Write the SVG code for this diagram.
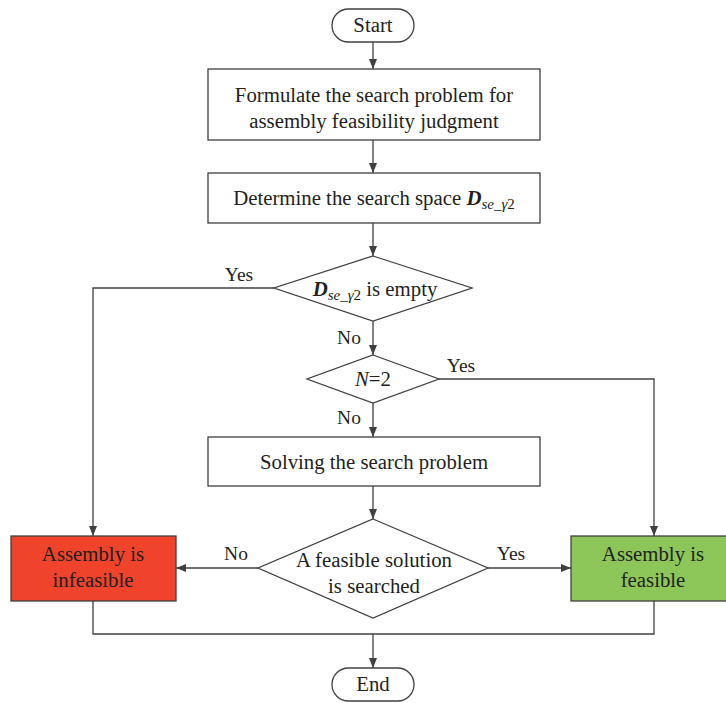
<svg xmlns="http://www.w3.org/2000/svg" width="726" height="703" viewBox="0 0 726 703">
<defs>
<marker id="arr" viewBox="0 0 10 10" refX="10" refY="5" markerWidth="10" markerHeight="10" markerUnits="userSpaceOnUse" orient="auto">
<path d="M0,1 L10,5 L0,9 Z" fill="#404040"/>
</marker>
<style>
.box{fill:#fff;stroke:#404040;stroke-width:1.3}
.t{font-family:"Liberation Serif","Times New Roman",serif;font-size:20.8px;fill:#231f20;text-anchor:middle}
.l{font-family:"Liberation Serif","Times New Roman",serif;font-size:19.5px;fill:#231f20;text-anchor:middle}
.c{fill:none;stroke:#404040;stroke-width:1.3}
</style>
</defs>
<rect width="726" height="703" fill="#fff"/>
<g id="start"><rect class="box" x="332" y="9" width="82" height="33" rx="16.5"/><text class="t" x="373" y="32">Start</text></g>
<g id="formulate"><rect class="box" x="208" y="69" width="332" height="71"/><text class="t" x="374" y="102">Formulate the search problem for</text><text class="t" x="374" y="128">assembly feasibility judgment</text></g>
<g id="determine"><rect class="box" x="208" y="173" width="332" height="50"/><text class="t" x="374" y="205">Determine the search space <tspan font-weight="bold" font-style="italic">D</tspan><tspan font-size="15" font-style="italic" dy="4">se_γ</tspan><tspan font-size="15">2</tspan></text></g>
<g id="empty"><polygon class="box" points="373,256 472,288 373,321 274,288"/><text class="t" x="375" y="296"><tspan font-weight="bold" font-style="italic">D</tspan><tspan font-size="15" font-style="italic" dy="4">se_γ</tspan><tspan font-size="15">2</tspan><tspan dy="-4"> is empty</tspan></text></g>
<g id="n2"><polygon class="box" points="373,355 439,379 373,403 307,379"/><text class="t" x="373" y="386"><tspan font-style="italic">N</tspan>=2</text></g>
<g id="solving"><rect class="box" x="208" y="437" width="332" height="49"/><text class="t" x="374" y="469">Solving the search problem</text></g>
<g id="found"><polygon class="box" points="373,519 488,568 373,618 258,568"/><text class="t" x="374" y="567">A feasible solution</text><text class="t" x="374" y="593">is searched</text></g>
<g id="infeasible"><rect class="box" x="11" y="536" width="165" height="65" style="fill:#ef432b"/><text class="t" x="93" y="561">Assembly is</text><text class="t" x="93" y="587">infeasible</text></g>
<g id="feasible"><rect class="box" x="571" y="536" width="160" height="65" style="fill:#8cc659"/><text class="t" x="653" y="561">Assembly is</text><text class="t" x="653" y="587">feasible</text></g>
<g id="end"><rect class="box" x="332" y="668" width="82" height="33" rx="16.5"/><text class="t" x="373" y="691">End</text></g>
<g id="connectors">
<path class="c" d="M373,42 V69" marker-end="url(#arr)"/>
<path class="c" d="M373,140 V173" marker-end="url(#arr)"/>
<path class="c" d="M373,223 V256" marker-end="url(#arr)"/>
<path class="c" d="M274,288 H93 V536" marker-end="url(#arr)"/>
<path class="c" d="M373,321 V355" marker-end="url(#arr)"/>
<path class="c" d="M439,379 H654 V536" marker-end="url(#arr)"/>
<path class="c" d="M373,403 V437" marker-end="url(#arr)"/>
<path class="c" d="M373,486 V519" marker-end="url(#arr)"/>
<path class="c" d="M258,568 H176" marker-end="url(#arr)"/>
<path class="c" d="M488,568 H571" marker-end="url(#arr)"/>
<path class="c" d="M93,601 V634 H654 V601"/>
<path class="c" d="M373,634 V668" marker-end="url(#arr)"/>
<text class="l" x="239" y="281">Yes</text>
<text class="l" x="349" y="344">No</text>
<text class="l" x="461" y="372">Yes</text>
<text class="l" x="349" y="424">No</text>
<text class="l" x="236" y="560">No</text>
<text class="l" x="511" y="560">Yes</text>
</g>
</svg>
